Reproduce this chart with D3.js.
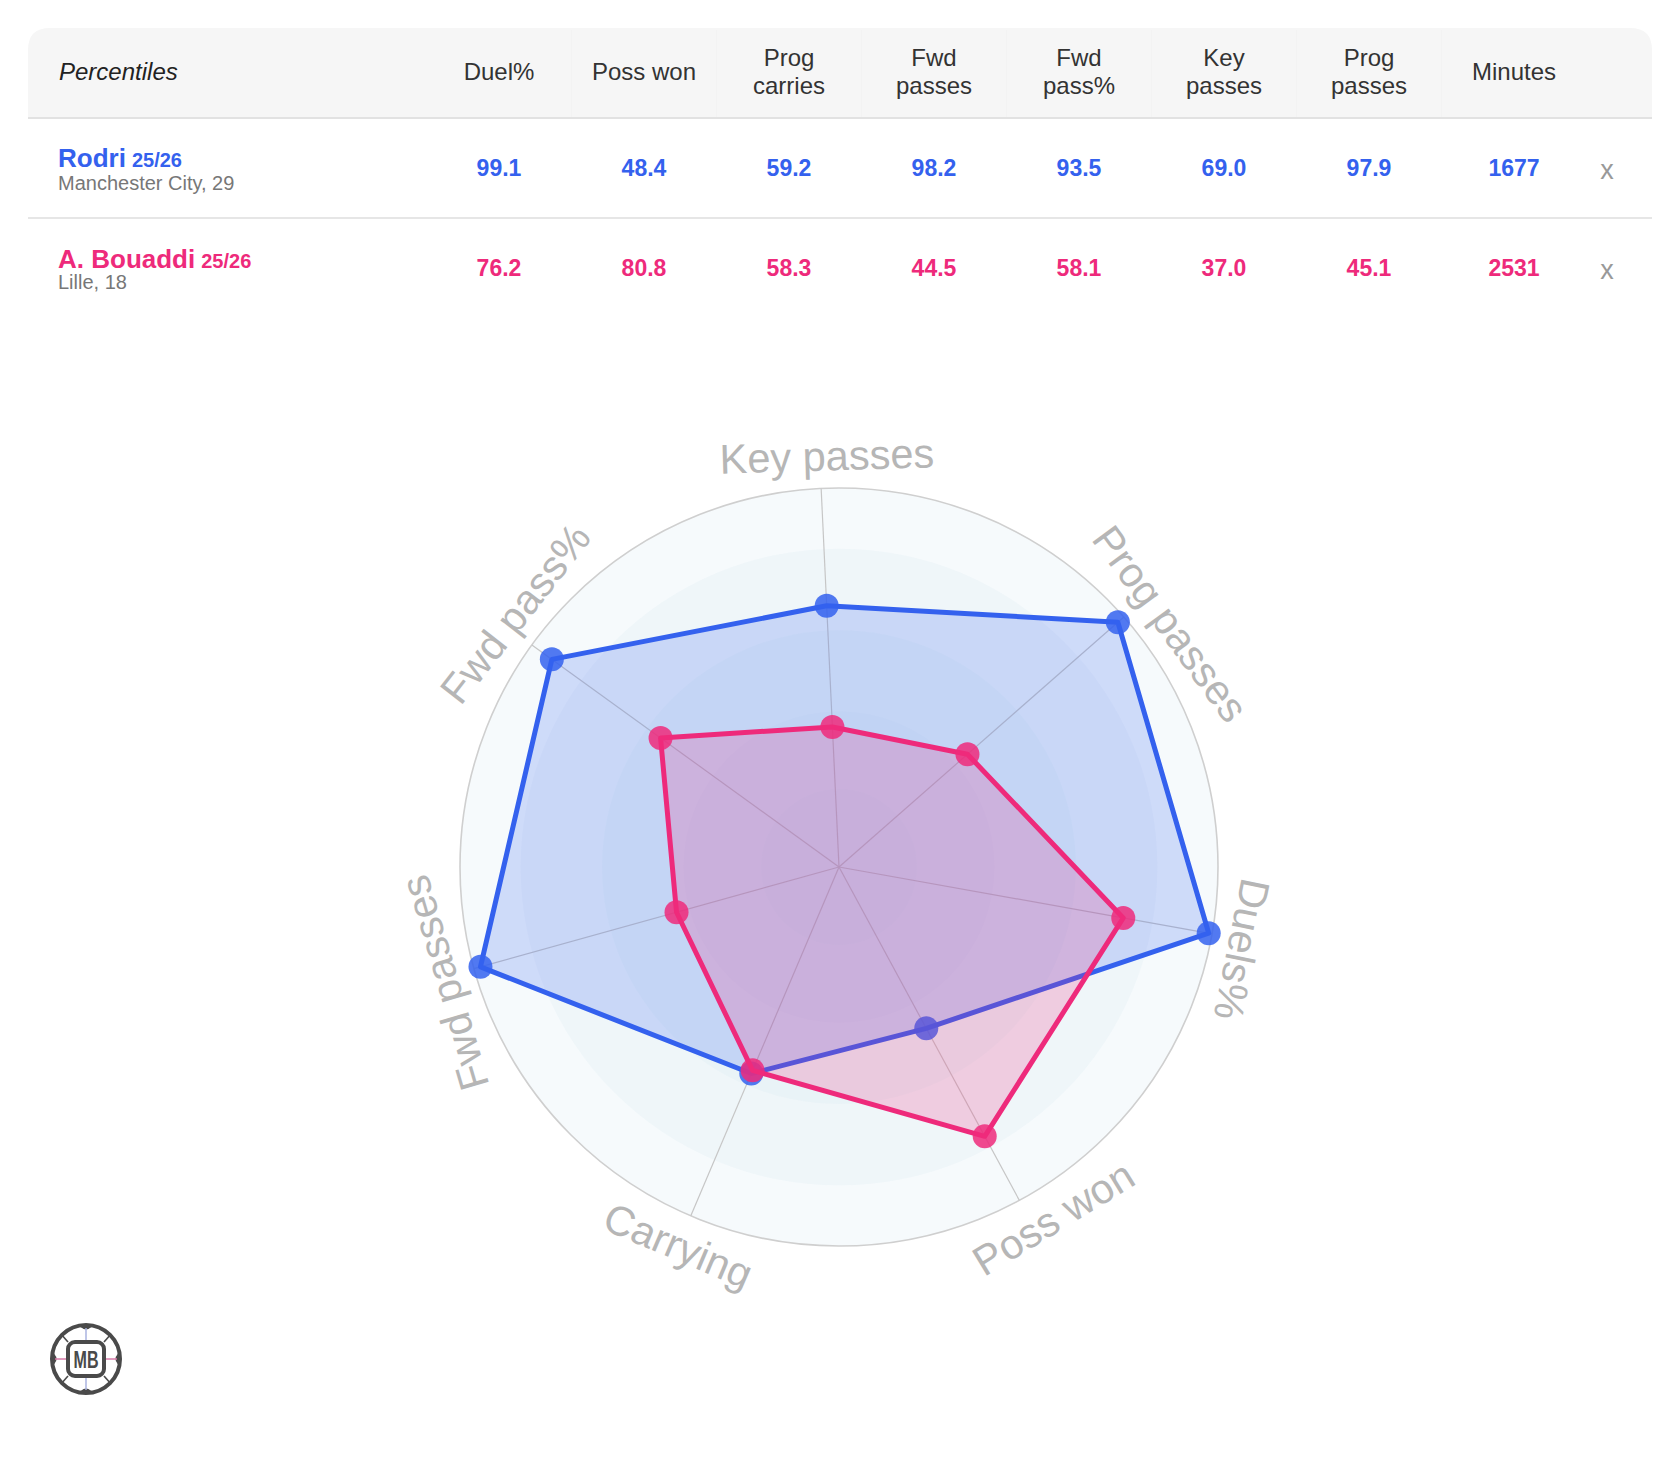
<!DOCTYPE html>
<html>
<head>
<meta charset="utf-8">
<style>
    body {
        margin: 0;
        background-color: #ffffff;
    }
    text {
        font-family: "Liberation Sans", Arial, sans-serif;
    }
</style>
</head>
<body>
<script src="https://cdn.jsdelivr.net/npm/d3@7"></script>
<script>
    // radar axes, clockwise from the top
    var axes = ["Key passes", "Prog passes", "Duels%", "Poss won", "Carrying", "Fwd passes", "Fwd pass%"];
    var rodriVals = [69.0, 97.9, 99.1, 48.4, 59.2, 98.2, 93.5];
    var bouaddiVals = [37.0, 45.1, 76.2, 80.8, 58.3, 44.5, 58.1];
    var rings = [20.5, 41, 62.5, 84, 100];

    // table
    var columns = [["Duel%"], ["Poss won"], ["Prog", "carries"], ["Fwd", "passes"], ["Fwd", "pass%"], ["Key", "passes"], ["Prog", "passes"], ["Minutes"]];
    var playerNames = ["Rodri", "A. Bouaddi"];
    var playerSeasons = ["25/26", "25/26"];
    var playerInfo = ["Manchester City, 29", "Lille, 18"];
    var rodriCells = ["99.1", "48.4", "59.2", "98.2", "93.5", "69.0", "97.9", "1677"];
    var bouaddiCells = ["76.2", "80.8", "58.3", "44.5", "58.1", "37.0", "45.1", "2531"];

    var colors = ["#3461ee", "#ee2a7b"];
    // small angular nudges (degrees) for the rim labels
    var labelNudge = [1, 5, 1.4, -3, 0, -0.8, 2.2];
    var W = 1680, H = 1470;

    var svg = d3.select("body")
        .append("svg")
        .attr("width", W)
        .attr("height", H);

    // ---------- table ----------
    svg.append("path")
        .attr("d", "M28,118 V50 Q28,28 50,28 H1630 Q1652,28 1652,50 V118 Z")
        .attr("fill", "#f6f6f6");

    var colX = d3.scalePoint()
        .domain(d3.range(columns.length))
        .range([499, 1514]);

    // faint column separators in the header
    svg.selectAll("line.sep")
        .data(d3.range(columns.length - 1))
        .enter()
        .append("line")
        .attr("x1", function (d) { return colX(d) + 72.5; })
        .attr("x2", function (d) { return colX(d) + 72.5; })
        .attr("y1", 30)
        .attr("y2", 117)
        .attr("stroke", "#f3f3f3")
        .attr("stroke-width", 1);

    svg.append("line").attr("x1", 28).attr("x2", 1652).attr("y1", 118).attr("y2", 118)
        .attr("stroke", "#e2e2e2").attr("stroke-width", 2);
    svg.append("line").attr("x1", 28).attr("x2", 1652).attr("y1", 218).attr("y2", 218)
        .attr("stroke", "#e6e6e6").attr("stroke-width", 2);

    svg.append("text")
        .attr("x", 59)
        .attr("y", 80)
        .attr("font-size", "24px")
        .attr("font-style", "italic")
        .attr("fill", "#222")
        .text("Percentiles");

    var head = svg.selectAll("text.head")
        .data(columns)
        .enter()
        .append("text")
        .attr("class", "head")
        .attr("text-anchor", "middle")
        .attr("font-size", "24px")
        .attr("fill", "#333");
    head.selectAll("tspan")
        .data(function (d, i) { return d.map(function (t) { return { t: t, n: d.length, i: i }; }); })
        .enter()
        .append("tspan")
        .attr("x", function (d) { return colX(d.i); })
        .attr("y", function (d, j) { return d.n == 1 ? 80 : 66 + j * 28; })
        .text(function (d) { return d.t; });

    var rowCells = [rodriCells, bouaddiCells];
    var rowBase = [167, 268];
    var numBase = [176, 276];
    var subBase = [190, 289];

    playerNames.forEach(function (name, p) {
        var t = svg.append("text")
            .attr("x", 58)
            .attr("y", rowBase[p])
            .attr("fill", colors[p])
            .attr("font-weight", "bold");
        t.append("tspan").attr("font-size", "26px").text(name);
        t.append("tspan").attr("font-size", "20px").attr("dx", 6).text(playerSeasons[p]);

        svg.append("text")
            .attr("x", 58)
            .attr("y", subBase[p])
            .attr("font-size", "20px")
            .attr("fill", "#777")
            .text(playerInfo[p]);

        svg.selectAll("text.num" + p)
            .data(rowCells[p])
            .enter()
            .append("text")
            .attr("class", "num" + p)
            .attr("x", function (d, i) { return colX(i); })
            .attr("y", numBase[p])
            .attr("text-anchor", "middle")
            .attr("font-size", "23px")
            .attr("font-weight", "bold")
            .attr("fill", colors[p])
            .text(function (d) { return d; });

        svg.append("text")
            .attr("x", 1607)
            .attr("y", numBase[p] + 3)
            .attr("text-anchor", "middle")
            .attr("font-size", "27px")
            .attr("fill", "#999")
            .text("x");
    });

    // ---------- radar ----------
    var cx = 839, cy = 867;
    var r = d3.scaleLinear().domain([0, 100]).range([0, 379]);
    var offset = -2.7 * Math.PI / 180;
    var ang = d3.scaleLinear()
        .domain([0, axes.length])
        .range([offset, offset + 2 * Math.PI]);

    var g = svg.append("g").attr("transform", "translate(" + cx + "," + cy + ")");

    g.selectAll("circle.ring")
        .data(rings.slice().reverse())
        .enter()
        .append("circle")
        .attr("r", function (d) { return r(d); })
        .attr("fill", "#d8e6f3")
        .attr("fill-opacity", 0.22);

    g.append("circle")
        .attr("r", r(100))
        .attr("fill", "none")
        .attr("stroke", "#cfcfcf")
        .attr("stroke-width", 1.6);

    g.selectAll("line.spoke")
        .data(axes)
        .enter()
        .append("line")
        .attr("x1", 0)
        .attr("y1", 0)
        .attr("x2", function (d, i) { return r(100) * Math.sin(ang(i)); })
        .attr("y2", function (d, i) { return -r(100) * Math.cos(ang(i)); })
        .attr("stroke", "#c6c6c6")
        .attr("stroke-width", 1.2);

    var radarLine = d3.lineRadial()
        .angle(function (d, i) { return ang(i); })
        .radius(function (d) { return r(d); })
        .curve(d3.curveLinearClosed);

    [rodriVals, bouaddiVals].forEach(function (vals, p) {
        g.append("path")
            .datum(vals)
            .attr("d", radarLine)
            .attr("fill", colors[p])
            .attr("fill-opacity", 0.2)
            .attr("stroke", colors[p])
            .attr("stroke-width", 5)
            .attr("stroke-linejoin", "round");

        g.selectAll("circle.pt" + p)
            .data(vals)
            .enter()
            .append("circle")
            .attr("class", "pt" + p)
            .attr("cx", function (d, i) { return r(d) * Math.sin(ang(i)); })
            .attr("cy", function (d, i) { return -r(d) * Math.cos(ang(i)); })
            .attr("r", 12)
            .attr("fill", colors[p])
            .attr("fill-opacity", 0.85);
    });

    // axis labels along the rim
    g.selectAll("text.lab")
        .data(axes)
        .enter()
        .append("text")
        .attr("class", "lab")
        .attr("text-anchor", "middle")
        .attr("dominant-baseline", "central")
        .attr("font-size", "41.5px")
        .attr("fill", "#b6b6b6")
        .attr("transform", function (d, i) {
            var a = ang(i) + labelNudge[i] * Math.PI / 180;
            var x = r(108.5) * Math.sin(a), y = -r(108.5) * Math.cos(a);
            var deg = a * 180 / Math.PI;
            if (deg > 110 && deg < 250) deg -= 180;
            return "translate(" + x + "," + y + ") rotate(" + deg + ")";
        })
        .text(function (d) { return d; });

    // ---------- logo ----------
    var logo = svg.append("g").attr("transform", "translate(86,1359)");
    logo.append("clipPath").attr("id", "lc").append("circle").attr("r", 34);
    logo.append("circle").attr("r", 34).attr("fill", "#fff");
    var inner = logo.append("g").attr("clip-path", "url(#lc)");
    [[0, -36], [0, 36], [-36, 0], [36, 0]].forEach(function (p) {
        inner.append("circle").attr("cx", p[0]).attr("cy", p[1]).attr("r", 6.5).attr("fill", "#4a4a4a");
    });
    [[18, 17], [-18, 17], [18, -17], [-18, -17]].forEach(function (p) {
        inner.append("line").attr("x1", p[0]).attr("y1", p[1])
            .attr("x2", p[0] * 1.5).attr("y2", p[1] * 1.6)
            .attr("stroke", "#4a4a4a").attr("stroke-width", 1.6);
    });
    inner.append("line").attr("x1", 0).attr("x2", 0).attr("y1", -31).attr("y2", -17).attr("stroke", "#aab3e0").attr("stroke-width", 1.5);
    inner.append("line").attr("x1", 0).attr("x2", 0).attr("y1", 17).attr("y2", 31).attr("stroke", "#aab3e0").attr("stroke-width", 1.5);
    inner.append("line").attr("x1", -31).attr("x2", -19).attr("y1", 0).attr("y2", 0).attr("stroke", "#d77aa8").attr("stroke-width", 1.5);
    inner.append("line").attr("x1", 19).attr("x2", 31).attr("y1", 0).attr("y2", 0).attr("stroke", "#d77aa8").attr("stroke-width", 1.5);
    logo.append("circle").attr("r", 34).attr("fill", "none").attr("stroke", "#4a4a4a").attr("stroke-width", 4);
    logo.append("rect").attr("x", -18).attr("y", -17).attr("width", 36).attr("height", 34).attr("rx", 7)
        .attr("fill", "#fff").attr("stroke", "#4a4a4a").attr("stroke-width", 4);
    logo.append("text")
        .attr("text-anchor", "middle")
        .attr("y", 9)
        .attr("font-size", "24px")
        .attr("font-weight", "bold")
        .attr("fill", "#4a4a4a")
        .attr("textLength", 25)
        .attr("lengthAdjust", "spacingAndGlyphs")
        .text("MB");
</script>
</body>
</html>
